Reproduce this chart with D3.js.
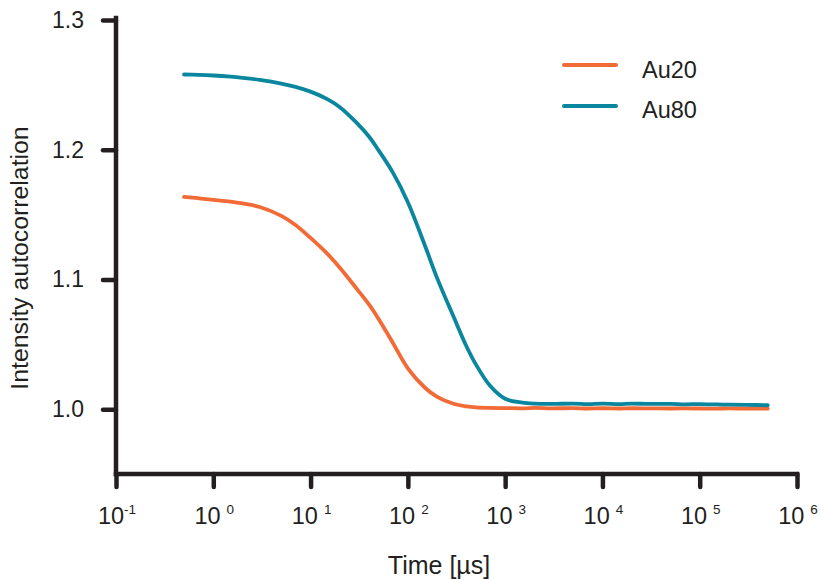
<!DOCTYPE html>
<html>
<head>
<meta charset="utf-8">
<script src="https://cdn.jsdelivr.net/npm/d3@7"></script>
<style>
  html, body { margin: 0; padding: 0; background: #fff; }
  svg { display: block; }
  text { font-family: "Liberation Sans", Arial, Helvetica, sans-serif; fill: #231f20; }
</style>
</head>
<body>
<svg id="chart" width="821" height="579"></svg>
<script>
// ---- data ----
const times = [0.5, 0.7, 1, 1.5, 2, 3, 5, 7, 10, 15, 20, 30, 40, 50, 70, 100, 150, 200, 300, 400, 500, 700,
  1000, 1500, 2000, 3000, 5000, 7000, 1e4, 1.5e4, 2e4, 3e4, 5e4, 7e4, 1e5, 1.5e5, 2e5, 3e5, 5e5];
const au20 = [1.1636, 1.1626, 1.1614, 1.1600, 1.1586, 1.1558, 1.1490, 1.1420, 1.1320, 1.1195, 1.1090, 1.0925,
  1.0805, 1.0695, 1.0512, 1.0315, 1.0165, 1.0095, 1.0040, 1.0022, 1.0014, 1.0010,
  1.0008, 1.0006, 1.0009, 1.0006, 1.0008, 1.0005, 1.0007, 1.0005, 1.0007, 1.0006, 1.0005, 1.0006, 1.0005,
  1.0004, 1.0006, 1.0004, 1.0004];
const au80 = [1.2580, 1.2577, 1.2572, 1.2563, 1.2554, 1.2538, 1.2510, 1.2485, 1.2448, 1.2388, 1.2328, 1.2205,
  1.2100, 1.1995, 1.1825, 1.1595, 1.1260, 1.1010, 1.0700, 1.0485, 1.0345, 1.0180,
  1.0080, 1.0050, 1.0042, 1.0040, 1.0043, 1.0038, 1.0042, 1.0039, 1.0043, 1.0040, 1.0041, 1.0037, 1.0039,
  1.0036, 1.0035, 1.0033, 1.0030];
const seriesNames = ["Au20", "Au80"];
const seriesColors = ["#f26a36", "#0a879e"];
const xTickExps = [-1, 0, 1, 2, 3, 4, 5, 6];
const yTicks = [1.0, 1.1, 1.2, 1.3];

// ---- layout ----
const svg = d3.select("#chart");
const x = d3.scaleLog().domain([0.1, 1e6]).range([116, 797]);
const y = d3.scaleLinear().domain([0.95, 1.3]).range([474, 20]);
const axisColor = "#231f20";

// y axis
const yAxis = svg.append("g").attr("transform", "translate(116,0)")
  .call(d3.axisLeft(y).tickValues(yTicks).tickSize(13).tickPadding(19).tickFormat(d3.format(".1f")));
yAxis.select(".domain").remove();
yAxis.selectAll(".tick line").attr("stroke", axisColor).attr("stroke-width", 4.5).attr("stroke-linecap", "round");
yAxis.selectAll(".tick text").attr("font-size", 23).attr("fill", axisColor)
  .style("font-family", '"Liberation Sans", Arial, sans-serif');
svg.append("line").attr("x1", 116).attr("x2", 116).attr("y1", y(1.3) - 2).attr("y2", y(0.95))
  .attr("stroke", axisColor).attr("stroke-width", 4.5).attr("stroke-linecap", "square");

// x axis
const xAxis = svg.append("g").attr("transform", "translate(0,474)")
  .call(d3.axisBottom(x).tickValues(xTickExps.map(e => Math.pow(10, e))).tickSize(13).tickFormat(""));
xAxis.select(".domain").remove();
xAxis.selectAll(".tick line").attr("stroke", axisColor).attr("stroke-width", 4.5).attr("stroke-linecap", "round");
svg.append("line").attr("x1", 116).attr("x2", 797).attr("y1", 474).attr("y2", 474)
  .attr("stroke", axisColor).attr("stroke-width", 4.5).attr("stroke-linecap", "square");

// x tick labels 10^n
xTickExps.forEach(e => {
  const t = svg.append("text").attr("x", x(Math.pow(10, e)) + 1).attr("y", 524)
    .attr("text-anchor", "middle").attr("font-size", 23.5);
  t.append("tspan").text("10");
  t.append("tspan").attr("font-size", 13.5).attr("dy", -10).attr("dx", e < 0 ? 0 : 6)
    .text(e < 0 ? "-" + Math.abs(e) : String(e));
});

// axis titles
svg.append("text").attr("x", 439).attr("y", 574).attr("text-anchor", "middle").attr("font-size", 25)
  .text("Time [µs]");
svg.append("text").attr("transform", "translate(28,258) rotate(-90)").attr("text-anchor", "middle")
  .attr("font-size", 24.8).text("Intensity autocorrelation");

// lines
const line = d3.line().x(d => x(d[0])).y(d => y(d[1])).curve(d3.curveCatmullRom.alpha(0.5));
[au20, au80].forEach((vals, i) => {
  svg.append("path").datum(times.map((t, j) => [t, vals[j]]))
    .attr("d", line).attr("fill", "none").attr("stroke", seriesColors[i])
    .attr("stroke-width", 3.8).attr("stroke-linecap", "round").attr("stroke-linejoin", "round");
});

// legend
const legendY = [65, 106];
const legendTextY = [78, 118];
seriesNames.forEach((n, i) => {
  svg.append("line").attr("x1", 564).attr("x2", 616).attr("y1", legendY[i]).attr("y2", legendY[i])
    .attr("stroke", seriesColors[i]).attr("stroke-width", 4).attr("stroke-linecap", "round");
  svg.append("text").attr("x", 642).attr("y", legendTextY[i]).attr("font-size", 23.5).text(n);
});
</script>
</body>
</html>
